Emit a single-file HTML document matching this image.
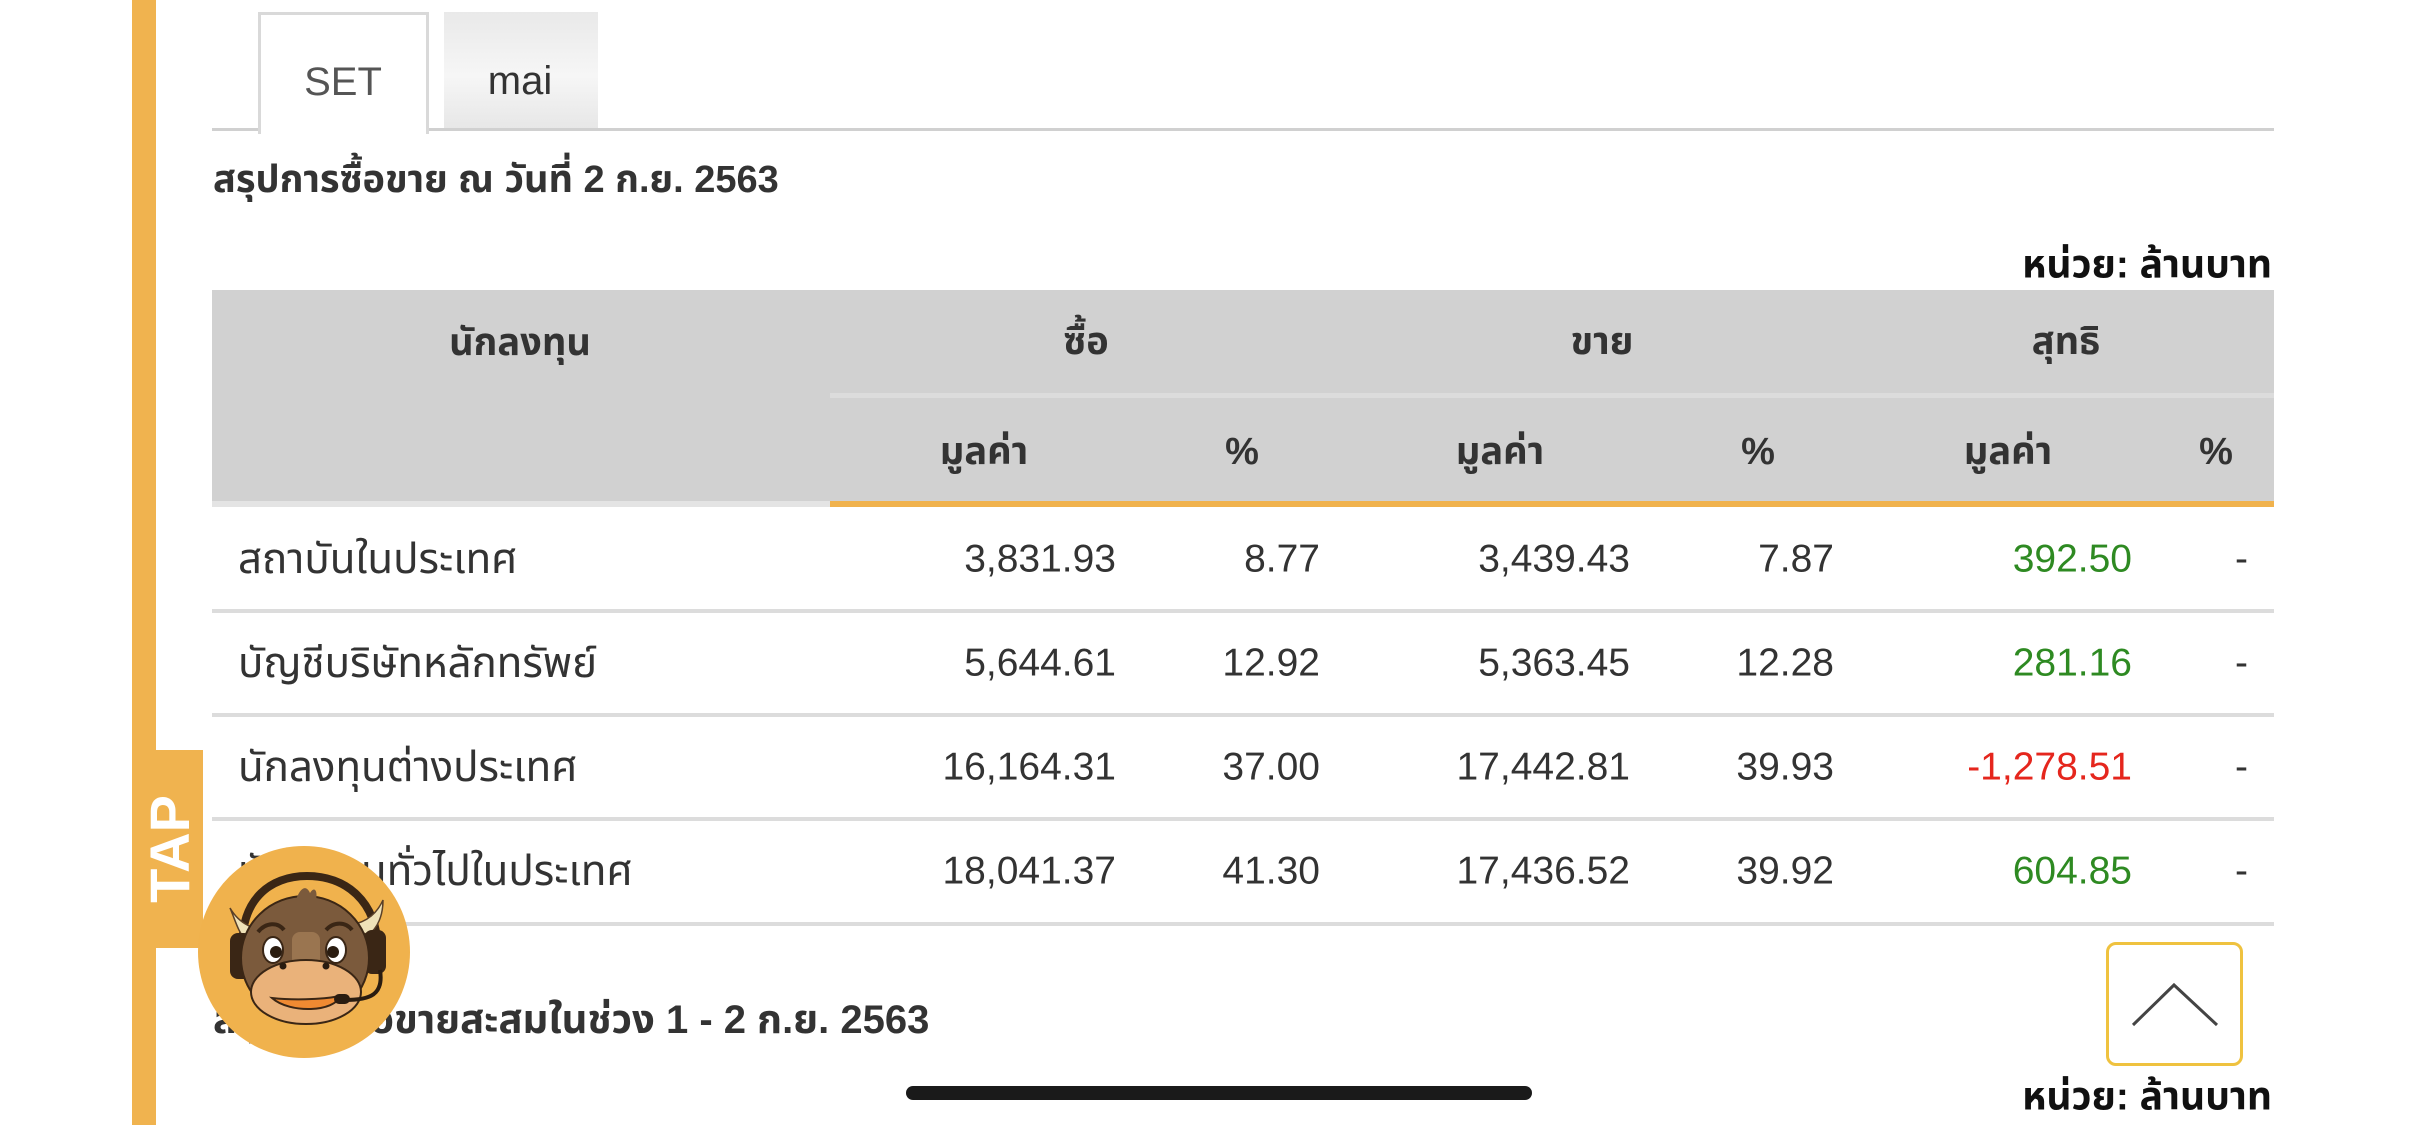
<!DOCTYPE html>
<html>
<head>
<meta charset="utf-8">
<style>
  html, body { margin:0; padding:0; }
  body { width:2436px; height:1125px; overflow:hidden; background:#fff; position:relative;
         font-family:"Liberation Sans", "Noto Sans Thai", "Garuda", "Loma", sans-serif; color:#333; }
  .a { position:absolute; }
  .t { position:absolute; white-space:nowrap; line-height:1; }
  .c { transform:translate(-50%,-50%); }
  .r { transform:translate(-100%,-50%); }
  .l { transform:translate(0,-50%); }
  .hd { font-weight:bold; font-size:38px; color:#333; }
  .d { font-size:39px; color:#333; }
  .lb { font-size:42px; color:#333; }
  .g { color:#2e8a22; }
  .red { color:#e5261d; }
  .line { position:absolute; left:212px; width:2062px; height:4px; background:#dcdcdc; }
</style>
</head>
<body>
<!-- left orange bar -->
<div class="a" style="left:132px;top:0;width:24px;height:1125px;background:#f0b34f;"></div>
<div class="a" style="left:156px;top:750px;width:47px;height:198px;background:#f0b34f;"></div>
<div class="t c" style="left:170px;top:849px;transform:translate(-50%,-50%) rotate(-90deg);font-weight:bold;font-size:56px;color:#fff;">TAP</div>

<!-- tabs -->
<div class="a" style="left:212px;top:128px;width:2062px;height:3px;background:#d0d0d0;"></div>
<div class="a" style="left:258px;top:12px;width:165px;height:119px;border:3px solid #d9d9d9;border-bottom:none;background:#fff;"></div>
<div class="t c" style="left:343px;top:82px;font-size:40px;color:#555;">SET</div>
<div class="a" style="left:444px;top:12px;width:154px;height:116px;background:linear-gradient(#e9e9e9,#f6f6f6 55%,#e7e7e7);"></div>
<div class="t c" style="left:520px;top:81px;font-size:40px;color:#333;">mai</div>

<!-- title -->
<div class="t l" style="left:213px;top:180px;font-weight:bold;font-size:38px;color:#333;">สรุปการซื้อขาย ณ วันที่ 2 ก.ย. 2563</div>
<div class="t r" style="left:2272px;top:265px;font-weight:bold;font-size:39px;color:#111;">หน่วย: ล้านบาท</div>

<!-- header -->
<div class="a" style="left:212px;top:290px;width:2062px;height:211px;background:#d1d1d1;"></div>
<div class="a" style="left:830px;top:393px;width:1444px;height:5px;background:#dcdcdc;"></div>
<div class="a" style="left:212px;top:501px;width:618px;height:6px;background:#e4e4e4;"></div>
<div class="a" style="left:830px;top:501px;width:1444px;height:6px;background:#f0b24d;"></div>

<div class="t c hd" style="left:520px;top:343px;">นักลงทุน</div>
<div class="t c hd" style="left:1086px;top:342px;">ซื้อ</div>
<div class="t c hd" style="left:1602px;top:342px;">ขาย</div>
<div class="t c hd" style="left:2066px;top:342px;">สุทธิ</div>
<div class="t c hd" style="left:984px;top:452px;">มูลค่า</div>
<div class="t c hd" style="left:1242px;top:452px;">%</div>
<div class="t c hd" style="left:1500px;top:452px;">มูลค่า</div>
<div class="t c hd" style="left:1758px;top:452px;">%</div>
<div class="t c hd" style="left:2008px;top:452px;">มูลค่า</div>
<div class="t c hd" style="left:2216px;top:452px;">%</div>

<!-- row lines -->
<div class="line" style="top:609px;"></div>
<div class="line" style="top:713px;"></div>
<div class="line" style="top:817px;"></div>
<div class="line" style="top:922px;"></div>

<!-- row 1 -->
<div class="t l lb" style="left:238px;top:559px;">สถาบันในประเทศ</div>
<div class="t r d" style="left:1116px;top:559px;">3,831.93</div>
<div class="t r d" style="left:1320px;top:559px;">8.77</div>
<div class="t r d" style="left:1630px;top:559px;">3,439.43</div>
<div class="t r d" style="left:1834px;top:559px;">7.87</div>
<div class="t r d g" style="left:2132px;top:559px;">392.50</div>
<div class="t r d" style="left:2248px;top:559px;">-</div>

<!-- row 2 -->
<div class="t l lb" style="left:238px;top:663px;">บัญชีบริษัทหลักทรัพย์</div>
<div class="t r d" style="left:1116px;top:663px;">5,644.61</div>
<div class="t r d" style="left:1320px;top:663px;">12.92</div>
<div class="t r d" style="left:1630px;top:663px;">5,363.45</div>
<div class="t r d" style="left:1834px;top:663px;">12.28</div>
<div class="t r d g" style="left:2132px;top:663px;">281.16</div>
<div class="t r d" style="left:2248px;top:663px;">-</div>

<!-- row 3 -->
<div class="t l lb" style="left:238px;top:767px;">นักลงทุนต่างประเทศ</div>
<div class="t r d" style="left:1116px;top:767px;">16,164.31</div>
<div class="t r d" style="left:1320px;top:767px;">37.00</div>
<div class="t r d" style="left:1630px;top:767px;">17,442.81</div>
<div class="t r d" style="left:1834px;top:767px;">39.93</div>
<div class="t r d red" style="left:2132px;top:767px;">-1,278.51</div>
<div class="t r d" style="left:2248px;top:767px;">-</div>

<!-- row 4 -->
<div class="t l lb" style="left:238px;top:871px;">นักลงทุนทั่วไปในประเทศ</div>
<div class="t r d" style="left:1116px;top:871px;">18,041.37</div>
<div class="t r d" style="left:1320px;top:871px;">41.30</div>
<div class="t r d" style="left:1630px;top:871px;">17,436.52</div>
<div class="t r d" style="left:1834px;top:871px;">39.92</div>
<div class="t r d g" style="left:2132px;top:871px;">604.85</div>
<div class="t r d" style="left:2248px;top:871px;">-</div>

<!-- second title -->
<div class="t l" style="left:213px;top:1020px;font-weight:bold;font-size:40px;color:#333;">สรุปการซื้อขายสะสมในช่วง 1 - 2 ก.ย. 2563</div>
<div class="t r" style="left:2272px;top:1097px;font-weight:bold;font-size:39px;color:#111;">หน่วย: ล้านบาท</div>

<!-- mascot -->
<svg class="a" style="left:190px;top:840px;" width="230" height="230" viewBox="190 840 230 230">
  <circle cx="304" cy="952" r="106" fill="#f0b24d"/>
  <path d="M243 955 C238 900 270 876 307 876 C345 876 377 900 378 950" fill="none" stroke="#3a2615" stroke-width="8"/>
  <path d="M268 930 C255 930 240 925 230 908 C236 922 238 932 246 940 Z" fill="#efe2b8" stroke="#5a4028" stroke-width="1.5"/>
  <path d="M345 925 C360 925 375 918 383 900 C383 915 378 928 368 935 Z" fill="#efe2b8" stroke="#5a4028" stroke-width="1.5"/>
  <rect x="230" y="933" width="22" height="46" rx="8" fill="#3a2615"/>
  <rect x="364" y="930" width="22" height="44" rx="8" fill="#3a2615"/>
  <ellipse cx="305" cy="958" rx="64" ry="62" fill="#7b5a3c" stroke="#3a2615" stroke-width="2"/>
  <path d="M296 900 C300 888 306 884 310 893 C314 886 318 890 316 900 Z" fill="#7b5a3c"/>
  <rect x="292" y="932" width="28" height="34" rx="8" fill="#9a7550"/>
  <path d="M258 932 C266 922 278 922 284 930" fill="none" stroke="#3a2615" stroke-width="4"/>
  <path d="M326 930 C334 921 346 922 352 930" fill="none" stroke="#3a2615" stroke-width="4"/>
  <ellipse cx="273" cy="950" rx="10" ry="13" fill="#fff" stroke="#3a2615" stroke-width="2"/>
  <ellipse cx="336" cy="950" rx="10" ry="13" fill="#fff" stroke="#3a2615" stroke-width="2"/>
  <circle cx="276" cy="952" r="6" fill="#2a1c10"/>
  <circle cx="333" cy="952" r="6" fill="#2a1c10"/>
  <ellipse cx="306" cy="992" rx="55" ry="32" fill="#eab27a" stroke="#3a2615" stroke-width="2"/>
  <circle cx="283" cy="966" r="3.5" fill="#2a1c10"/>
  <circle cx="326" cy="966" r="3.5" fill="#2a1c10"/>
  <path d="M272 998 C290 1000 320 1000 340 996 C335 1012 290 1014 272 998 Z" fill="#ef8a32" stroke="#3a2615" stroke-width="2"/>
  <path d="M380 970 C384 995 370 1000 345 1000" fill="none" stroke="#2a1c10" stroke-width="4"/>
  <rect x="334" y="994" width="16" height="10" rx="5" fill="#2a1c10"/>
</svg>

<!-- scroll to top button -->
<div class="a" style="left:2106px;top:942px;width:131px;height:118px;border:3px solid #efc23f;border-radius:10px;background:#fff;"></div>
<svg class="a" style="left:2106px;top:942px;" width="137" height="124" viewBox="2106 942 137 124">
  <polyline points="2133,1025 2174,985 2217,1025" fill="none" stroke="#444" stroke-width="3"/>
</svg>

<!-- home indicator -->
<div class="a" style="left:906px;top:1086px;width:626px;height:14px;border-radius:7px;background:#1a1a1a;"></div>
</body>
</html>
